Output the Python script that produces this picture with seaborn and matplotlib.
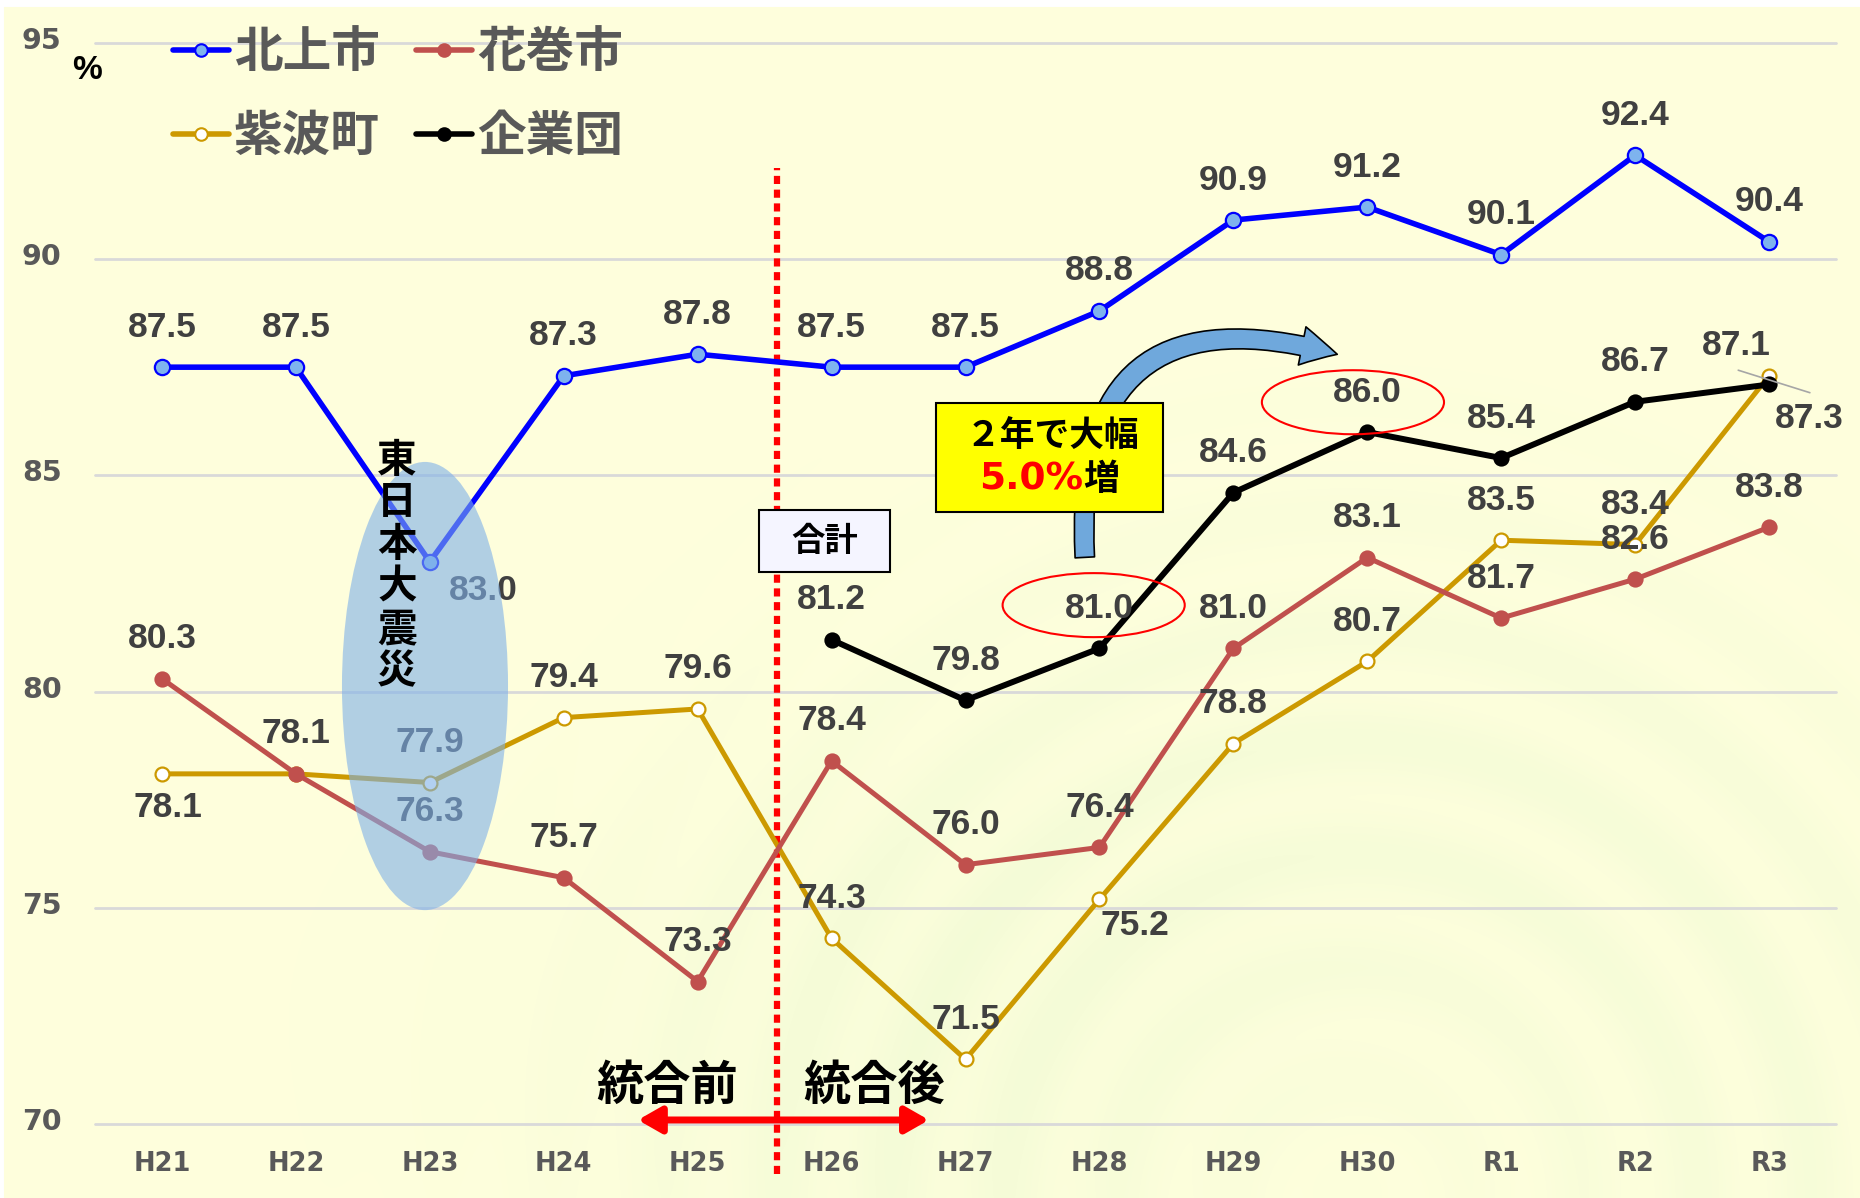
import numpy as np
import pandas as pd
import matplotlib
matplotlib.use("Agg")
import matplotlib.pyplot as plt
import matplotlib.transforms as mtransforms
import seaborn as sns
from matplotlib.patches import Ellipse, FancyArrowPatch, Rectangle
from matplotlib.lines import Line2D

# ---- data -------------------------------------------------------------
years = ["H21", "H22", "H23", "H24", "H25", "H26", "H27",
         "H28", "H29", "H30", "R1", "R2", "R3"]
kitakami = [87.5, 87.5, 83.0, 87.3, 87.8, 87.5, 87.5, 88.8, 90.9, 91.2, 90.1, 92.4, 90.4]
hanamaki = [80.3, 78.1, 76.3, 75.7, 73.3, 78.4, 76.0, 76.4, 81.0, 83.1, 81.7, 82.6, 83.8]
shiwa = [78.1, 78.1, 77.9, 79.4, 79.6, 74.3, 71.5, 75.2, 78.8, 80.7, 83.5, 83.4, 87.3]
kigyodan = [np.nan] * 5 + [81.2, 79.8, 81.0, 84.6, 86.0, 85.4, 86.7, 87.1]
series_names = ["北上市", "花巻市", "紫波町", "企業団"]
y_ticks = [70, 75, 80, 85, 90, 95]

df = pd.DataFrame({"pos": np.arange(len(years)), "year": years,
                   "北上市": kitakami, "花巻市": hanamaki,
                   "紫波町": shiwa, "企業団": kigyodan})

# ---- styles -------------------------------------------------------------
styles = {
    "北上市": dict(color="#0000FF", lw=4.0, mfc="#7EB3EE", mec="#0000FF", ms=11, mew=1.6),
    "花巻市": dict(color="#C0504D", lw=3.6, mfc="#C0504D", mec="#C0504D", ms=10.5, mew=1.2),
    "紫波町": dict(color="#CC9900", lw=3.6, mfc="#FFFFFF", mec="#CC9900", ms=10, mew=1.6),
    "企業団": dict(color="#000000", lw=4.3, mfc="#000000", mec="#000000", ms=10.5, mew=1.2),
}
draw_order = ["紫波町", "花巻市", "企業団", "北上市"]

W, H, DPI = 1860, 1198, 100
sns.set_style("white")
plt.rcParams["font.family"] = ["Noto Sans CJK JP", "DejaVu Sans"]

fig = plt.figure(figsize=(W / DPI, H / DPI), dpi=DPI, facecolor="white")

# ---- pale yellow backdrop with faint green ripples ---------------------
yy, xx = np.mgrid[0:H, 0:W].astype(float)
base = np.array([255, 255, 221], float) / 255
green = np.array([228, 246, 206], float) / 255
r = np.hypot(xx - 1350, yy - 1200)
env = np.exp(-((r - 430) / 330) ** 2)
ring = 0.5 + 0.5 * np.cos(2 * np.pi * r / 115)
glow = np.exp(-(((xx - 900) / 550) ** 2 + ((yy - 1000) / 280) ** 2))
tint = np.clip(0.3 * env * (0.25 + 0.75 * ring) + 0.12 * glow, 0, 1)[..., None]
img = base * (1 - tint) + green * tint
img[:7, :, :] = 1.0
img[:, :4, :] = 1.0
bg = fig.add_axes([0, 0, 1, 1], zorder=-5)
bg.imshow(img, aspect="auto", interpolation="bilinear")
bg.axis("off")

# ---- main axes -----------------------------------------------------------
ax = fig.add_axes([0.05108, 0.06152, 0.93602, 0.90284])
ax.patch.set_alpha(0)
ax.set_xlim(-0.5, 12.5)
ax.set_ylim(70, 95)
for s in ax.spines.values():
    s.set_visible(False)
ax.set_yticks(y_ticks)
ax.set_xticks(df["pos"])
ax.set_xticklabels(years)
ax.grid(axis="y", color="#D9D9D9", lw=2.0, zorder=0)
ax.grid(axis="x", visible=False)
for gl in ax.get_ygridlines():
    gl.set_clip_on(False)
ax.tick_params(axis="both", length=0, colors="#595959")
ax.tick_params(axis="y", pad=24)
ax.tick_params(axis="x", pad=19)
lift = mtransforms.ScaledTranslation(0, 5 / DPI, fig.dpi_scale_trans)
for t in ax.get_yticklabels():
    t.set_fontfamily("DejaVu Sans"); t.set_fontweight("bold"); t.set_fontsize(20.5)
    t.set_transform(t.get_transform() + lift)
for t in ax.get_xticklabels():
    t.set_fontfamily("DejaVu Sans"); t.set_fontweight("bold"); t.set_fontsize(18.5)
ax.set_xlabel(""); ax.set_ylabel("")

# merger boundary (dotted red)
ax.vlines(4.59, 68.84, 92.1, colors="#FF0000", lw=4.5, linestyles=(0, (1.3, 0.9)),
          clip_on=False, zorder=2)

# series lines
for name in draw_order:
    st = styles[name]
    sub = df[["pos", name]].dropna()
    sns.lineplot(data=sub, x="pos", y=name, ax=ax, estimator=None, sort=False,
                 color=st["color"], lw=st["lw"], marker="o", markersize=st["ms"],
                 markerfacecolor=st["mfc"], markeredgecolor=st["mec"],
                 markeredgewidth=st["mew"], clip_on=False, zorder=4)
ax.set_xlabel(""); ax.set_ylabel("")

# ---- value labels -------------------------------------------------------
label_font = dict(family=["Liberation Sans", "DejaVu Sans"], weight="bold",
                  size=25.5, color="#404040")
offsets = {("北上市", 2): (53, -29), ("紫波町", 0): (6, -34),
           ("紫波町", 7): (35, -26), ("紫波町", 12): (40, -43),
           ("企業団", 12): (-33, 39)}
skip = {("紫波町", 1)}
for name in series_names:
    for i, v in enumerate(df[name]):
        if np.isnan(v) or (name, i) in skip:
            continue
        dx, dy = offsets.get((name, i), (0, 40))
        ax.annotate(f"{v:.1f}", xy=(i, v), xytext=(dx, dy), textcoords="offset pixels",
                    ha="center", va="center", zorder=6, annotation_clip=False, **label_font)
# leader for the R3 紫波町 label
ax.plot([11.77, 12.305], [87.43, 86.91], color="#A6A6A6", lw=1.2, zorder=5, clip_on=False)

# ---- earthquake highlight ------------------------------------------------
ax.add_patch(Ellipse((1.964, 80.13), 1.24, 10.36, facecolor="#7FB1E9", alpha=0.6,
                     edgecolor="none", zorder=7))
for k, ch in enumerate("東日本大震災"):
    ax.annotate(ch, xy=(1.755, 85.35), xytext=(0, -42.4 * k), textcoords="offset pixels",
                ha="center", va="center", fontsize=28.5, weight="bold", color="black",
                zorder=8)

# ---- 合計 tag -----------------------------------------------------------
ax.add_patch(Rectangle((4.459, 82.76), 0.978, 1.44, facecolor="#F5F5FF",
                       edgecolor="black", lw=1.5, zorder=8))
ax.text(4.948, 83.48, "合計", ha="center", va="center", fontsize=24,
        weight="bold", color="black", zorder=9)

# ---- curved blue arrow and callout ---------------------------------------
arrow = FancyArrowPatch((6.892, 83.04), (8.796, 87.78),
                        connectionstyle="arc3,rad=-0.7",
                        arrowstyle="simple,head_length=2.6,head_width=2.8,tail_width=1.4",
                        mutation_scale=10, facecolor="#6FA8DC", edgecolor="black",
                        lw=1.2, zorder=9)
ax.add_patch(arrow)
ax.add_patch(Rectangle((5.781, 84.15), 1.695, 2.52, facecolor="#FFFF00",
                       edgecolor="black", lw=1.5, zorder=10))
ax.text(6.653, 85.93, "２年で大幅", ha="center", va="center", fontsize=25,
        weight="bold", color="black", zorder=11)
ax.text(6.877, 84.91, "5.0%", ha="right", va="center", fontsize=27,
        family="DejaVu Sans", weight="bold", color="#FF0000", zorder=11)
ax.text(6.877, 84.91, "増", ha="left", va="center", fontsize=26,
        weight="bold", color="black", zorder=11)

# red rings around the two-year change
for cx, cy in [(6.957, 82.0), (8.893, 86.69)]:
    ax.add_patch(Ellipse((cx, cy), 1.36, 1.48, facecolor="none", edgecolor="#FF0000",
                         lw=1.5, zorder=11))

# ---- before / after merger ------------------------------------------------
ax.annotate("", xy=(5.727, 70.1), xytext=(3.554, 70.1),
            arrowprops=dict(arrowstyle="<|-|>,head_length=0.7,head_width=0.4",
                            color="#FF0000", lw=5, shrinkA=0, shrinkB=0,
                            mutation_scale=20),
            annotation_clip=False, zorder=6)
ax.text(3.775, 70.88, "統合前", ha="center", va="center", fontsize=34,
        weight="bold", color="black", zorder=6)
ax.text(5.316, 70.88, "統合後", ha="center", va="center", fontsize=34,
        weight="bold", color="black", zorder=6)

# unit
ax.text(-0.56, 94.35, "%", ha="center", va="center", fontsize=24,
        family=["Liberation Sans", "DejaVu Sans"], weight="bold", color="black")

# ---- legend ---------------------------------------------------------------
legend_order = ["北上市", "紫波町", "花巻市", "企業団"]
handles = [Line2D([], [], color=styles[n]["color"], lw=4, marker="o",
                  markersize=9, markerfacecolor=styles[n]["mfc"],
                  markeredgecolor=styles[n]["mec"], markeredgewidth=1.5)
           for n in legend_order]
leg = ax.legend(handles, legend_order, ncol=2, loc="upper left",
                bbox_to_anchor=(173 / W, 1 - 28 / H), bbox_transform=fig.transFigure,
                frameon=False, fontsize=35, handlelength=1.15, handletextpad=0.1,
                columnspacing=0.75, labelspacing=0.72, borderpad=0, borderaxespad=0)
for t in leg.get_texts():
    t.set_color("#595959"); t.set_fontweight("bold")

fig.savefig("out.png", dpi=DPI, facecolor="white")
